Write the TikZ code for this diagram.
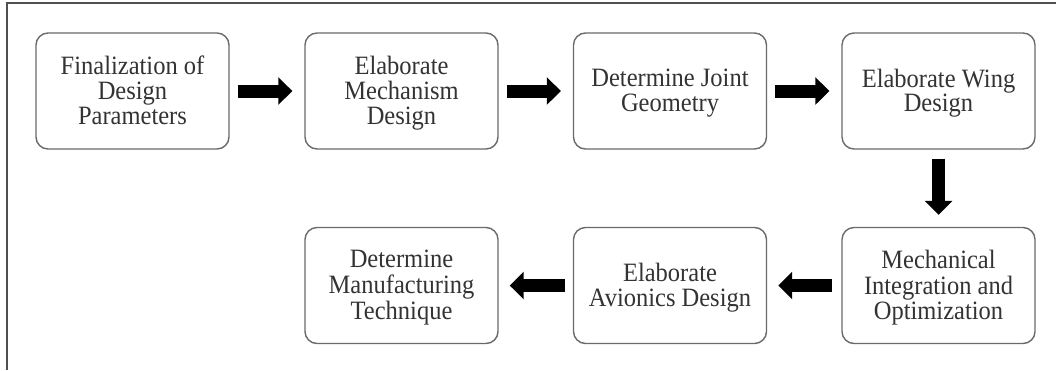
\documentclass[tikz,border=0pt]{standalone}
\usepackage{fontspec}
\usepackage{graphicx}
\setmainfont{Liberation Serif}
\usetikzlibrary{arrows.meta}
\definecolor{txt}{HTML}{333333}
\definecolor{edge}{HTML}{6A6A6A}
\definecolor{frm}{HTML}{505050}
\newcommand{\lbl}[1]{\raisebox{-3pt}[\height][\depth]{\scalebox{1}[1.08]{\begin{tabular}{@{}c@{}}#1\end{tabular}}}}
\tikzset{
  stepbox/.style={draw=edge, line width=1.4pt, rounded corners=12pt, fill=white,
    minimum width=193pt, minimum height=116pt, inner sep=0pt,
    align=center, text=txt,
    font=\fontsize{24.5pt}{22.7pt}\selectfont},
  fat/.style={line width=13pt, -{Triangle[length=14pt,width=27pt]}, black},
  frameline/.style={draw=frm, line width=2pt}
}
\begin{document}
\begin{tikzpicture}[x=1pt,y=-1pt]
\useasboundingbox (0,0) rectangle (1056,370);
\draw[frameline] (1056,3) -- (7,3) -- (7,370);
\node[stepbox] (b1) at (132.5,91) {\lbl{Finalization of\\Design\\Parameters}};
\node[stepbox] (b2) at (401.5,91) {\lbl{Elaborate\\Mechanism\\Design}};
\node[stepbox] (b3) at (670,91) {\lbl{Determine Joint\\Geometry}};
\node[stepbox] (b4) at (938.5,91) {\lbl{Elaborate Wing\\Design}};
\node[stepbox] (b5) at (938.5,285.5) {\lbl{Mechanical\\Integration and\\Optimization}};
\node[stepbox] (b6) at (670,285.5) {\lbl{Elaborate\\Avionics Design}};
\node[stepbox] (b7) at (401.5,285.5) {\lbl{Determine\\Manufacturing\\Technique}};
\draw[fat] ([xshift=8pt]b1.east) -- ([xshift=-12pt]b2.west);
\draw[fat] ([xshift=8pt]b2.east) -- ([xshift=-12pt]b3.west);
\draw[fat] ([xshift=8pt]b3.east) -- ([xshift=-12pt]b4.west);
\draw[fat] ([yshift=-9pt]b4.south) -- ([yshift=12pt]b5.north);
\draw[fat] ([xshift=-9pt]b5.west) -- ([xshift=11pt]b6.east);
\draw[fat] ([xshift=-8pt]b6.west) -- ([xshift=11pt]b7.east);
\end{tikzpicture}
\end{document}
